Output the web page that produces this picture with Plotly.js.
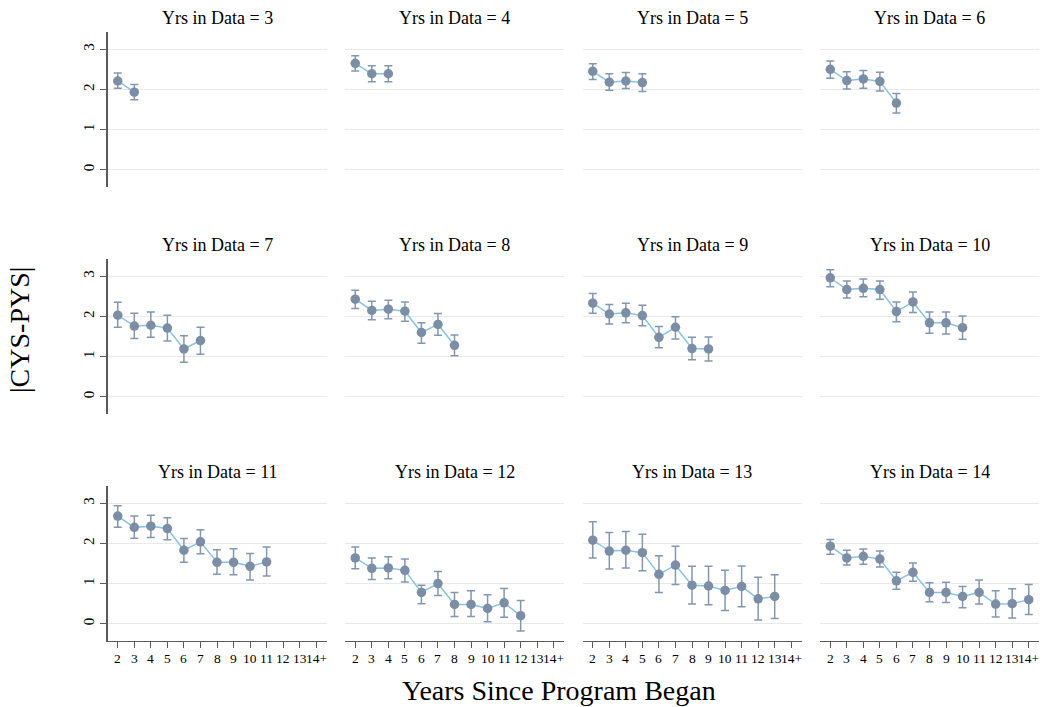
<!DOCTYPE html>
<html>
<head>
<meta charset="utf-8">
<script src="https://cdn.plot.ly/plotly-3.0.1.min.js"></script>
<style>
  html, body { margin: 0; padding: 0; background: #fff; }
  #chart { width: 1047px; height: 707px; }
</style>
</head>
<body>
<div id="chart"></div>
<script>
// Panels: number of years a program appears in the data
const panelYears = [3, 4, 5, 6, 7, 8, 9, 10, 11, 12, 13, 14];

// Horizontal axis: years since the program began
const xTickVals = [2, 3, 4, 5, 6, 7, 8, 9, 10, 11, 12, 13, 14];
const xTickText = ['2', '3', '4', '5', '6', '7', '8', '9', '10', '11', '12', '13', '14+'];

// Mean |CYS-PYS| per panel (index 0 = year 2)
const mean3  = [2.21, 1.93];
const mean4  = [2.65, 2.39, 2.39];
const mean5  = [2.45, 2.18, 2.21, 2.17];
const mean6  = [2.50, 2.22, 2.26, 2.20, 1.66];
const mean7  = [2.03, 1.76, 1.78, 1.71, 1.19, 1.40];
const mean8  = [2.43, 2.15, 2.18, 2.13, 1.60, 1.80, 1.28];
const mean9  = [2.33, 2.06, 2.09, 2.02, 1.48, 1.73, 1.20, 1.19];
const mean10 = [2.96, 2.67, 2.70, 2.67, 2.12, 2.36, 1.84, 1.84, 1.72];
const mean11 = [2.68, 2.40, 2.43, 2.37, 1.83, 2.04, 1.53, 1.53, 1.43, 1.54];
const mean12 = [1.64, 1.38, 1.39, 1.33, 0.78, 1.00, 0.48, 0.48, 0.38, 0.52, 0.20];
const mean13 = [2.08, 1.81, 1.83, 1.77, 1.23, 1.46, 0.96, 0.94, 0.83, 0.93, 0.62, 0.68];
const mean14 = [1.93, 1.64, 1.68, 1.61, 1.07, 1.28, 0.78, 0.78, 0.68, 0.78, 0.49, 0.50, 0.60];

// Upper and lower confidence limits
const hi3  = [2.41, 2.12];
const lo3  = [2.03, 1.74];
const hi4  = [2.84, 2.59, 2.59];
const lo4  = [2.46, 2.19, 2.19];
const hi5  = [2.64, 2.39, 2.42, 2.39];
const lo5  = [2.25, 1.98, 2.02, 1.95];
const hi6  = [2.71, 2.44, 2.47, 2.43, 1.90];
const lo6  = [2.28, 2.01, 2.03, 1.96, 1.41];
const hi7  = [2.35, 2.08, 2.11, 2.03, 1.52, 1.73];
const lo7  = [1.73, 1.45, 1.48, 1.39, 0.86, 1.06];
const hi8  = [2.65, 2.38, 2.40, 2.36, 1.84, 2.07, 1.54];
const lo8  = [2.20, 1.92, 1.94, 1.88, 1.33, 1.53, 1.02];
const hi9  = [2.57, 2.30, 2.33, 2.28, 1.75, 1.99, 1.48, 1.49];
const lo9  = [2.08, 1.81, 1.84, 1.77, 1.22, 1.44, 0.92, 0.89];
const hi10 = [3.16, 2.88, 2.93, 2.88, 2.36, 2.61, 2.11, 2.11, 2.01];
const lo10 = [2.74, 2.46, 2.49, 2.43, 1.87, 2.10, 1.58, 1.56, 1.43];
const hi11 = [2.94, 2.68, 2.70, 2.64, 2.12, 2.34, 1.84, 1.87, 1.75, 1.91];
const lo11 = [2.40, 2.13, 2.15, 2.09, 1.53, 1.74, 1.23, 1.22, 1.09, 1.19];
const hi12 = [1.91, 1.64, 1.67, 1.61, 0.96, 1.30, 0.78, 0.82, 0.72, 0.88, 0.58];
const lo12 = [1.37, 1.10, 1.12, 1.04, 0.50, 0.70, 0.18, 0.18, 0.05, 0.16, -0.18];
const hi13 = [2.54, 2.27, 2.30, 2.23, 1.69, 1.93, 1.43, 1.43, 1.33, 1.44, 1.16, 1.22];
const lo13 = [1.64, 1.36, 1.39, 1.32, 0.78, 0.98, 0.49, 0.47, 0.33, 0.42, 0.09, 0.13];
const hi14 = [2.10, 1.83, 1.86, 1.81, 1.28, 1.51, 1.02, 1.03, 0.93, 1.09, 0.82, 0.87, 0.98];
const lo14 = [1.73, 1.46, 1.48, 1.41, 0.86, 1.06, 0.55, 0.53, 0.40, 0.49, 0.17, 0.14, 0.23];

const means = [mean3, mean4, mean5, mean6, mean7, mean8, mean9, mean10, mean11, mean12, mean13, mean14];
const his   = [hi3, hi4, hi5, hi6, hi7, hi8, hi9, hi10, hi11, hi12, hi13, hi14];
const los   = [lo3, lo4, lo5, lo6, lo7, lo8, lo9, lo10, lo11, lo12, lo13, lo14];

const W = 1047, H = 707;
const SERIF = 'Liberation Serif';
const MARKER = '#7b8ea6';
const LINE = '#86c2ea';
const ERR = '#8297b0';
const GRID = '#e9e9e9';
const AXIS = '#5a5a5a';

// panel geometry in pixels
const colLeft = [107.5, 345, 582.5, 820];
const panelW = 219;
const rowTop = [32, 259, 486];
const panelH = 155;

const px2x = p => p / W;
const px2y = p => 1 - p / H;

const traces = [];
const layout = {
  width: W, height: H,
  margin: {l: 0, r: 0, t: 0, b: 0},
  paper_bgcolor: '#ffffff',
  plot_bgcolor: '#ffffff',
  showlegend: false,
  font: {family: SERIF, color: '#000'},
  annotations: []
};

panelYears.forEach((yrs, i) => {
  const row = Math.floor(i / 4), col = i % 4;
  const k = i === 0 ? '' : String(i + 1);
  const m = means[i];
  const xs = xTickVals.slice(0, m.length);

  traces.push({
    type: 'scatter',
    mode: 'lines+markers',
    x: xs,
    y: m,
    xaxis: 'x' + k,
    yaxis: 'y' + k,
    line: {color: LINE, width: 1.5},
    marker: {color: MARKER, size: 9.5},
    error_y: {
      type: 'data',
      symmetric: false,
      array: his[i].map((h, j) => h - m[j]),
      arrayminus: los[i].map((l, j) => m[j] - l),
      color: ERR,
      thickness: 1.5,
      width: 4
    },
    cliponaxis: false,
    hoverinfo: 'skip'
  });

  const bottom = row === 2;
  const left = col === 0;

  layout['xaxis' + k] = {
    domain: [px2x(colLeft[col]), px2x(colLeft[col] + panelW)],
    anchor: 'y' + k,
    range: [1.38, 14.62],
    tickvals: xTickVals,
    showticklabels: false,
    ticks: bottom ? 'outside' : '',
    ticklen: 6,
    tickcolor: AXIS,
    showline: bottom,
    linecolor: AXIS,
    linewidth: 1.3,
    showgrid: false,
    zeroline: false,
    fixedrange: true
  };

  // bottom-row tick labels, placed at each tick value on the panel's own x scale
  if (bottom) {
    xTickVals.forEach((v, j) => {
      layout.annotations.push({
        text: xTickText[j],
        xref: 'x' + k, yref: 'paper',
        x: v, y: px2y(rowTop[row] + panelH + 9),
        xanchor: 'center', yanchor: 'top',
        showarrow: false,
        borderpad: 0,
        font: {family: SERIF, size: 13.5, color: '#000'}
      });
    });
  }

  layout['yaxis' + k] = {
    domain: [px2y(rowTop[row] + panelH), px2y(rowTop[row])],
    anchor: 'x' + k,
    range: [-0.43, 3.43],
    tickvals: [0, 1, 2, 3],
    showticklabels: left,
    ticks: left ? 'outside' : '',
    ticklen: 6,
    tickcolor: AXIS,
    tickangle: -90,
    tickfont: {family: SERIF, size: 15, color: '#000'},
    showline: left,
    linecolor: AXIS,
    linewidth: 1.3,
    showgrid: true,
    gridcolor: GRID,
    gridwidth: 1,
    zeroline: false,
    fixedrange: true
  };

  layout.annotations.push({
    text: 'Yrs in Data = ' + yrs,
    xref: 'paper', yref: 'paper',
    x: px2x(colLeft[col] + panelW / 2),
    y: px2y(rowTop[row] - 14),
    xanchor: 'center', yanchor: 'middle',
    showarrow: false,
    font: {family: SERIF, size: 18, color: '#000'}
  });
});

// shared axis titles
layout.annotations.push({
  text: 'Years Since Program Began',
  xref: 'paper', yref: 'paper',
  x: px2x(559), y: px2y(690),
  xanchor: 'center', yanchor: 'middle',
  showarrow: false,
  font: {family: SERIF, size: 28, color: '#000'}
});
layout.annotations.push({
  text: '|CYS-PYS|',
  xref: 'paper', yref: 'paper',
  x: px2x(19), y: px2y(330),
  xanchor: 'center', yanchor: 'middle',
  textangle: -90,
  showarrow: false,
  font: {family: SERIF, size: 28, color: '#000'}
});

Plotly.newPlot('chart', traces, layout, {displayModeBar: false, staticPlot: true});
</script>
</body>
</html>
